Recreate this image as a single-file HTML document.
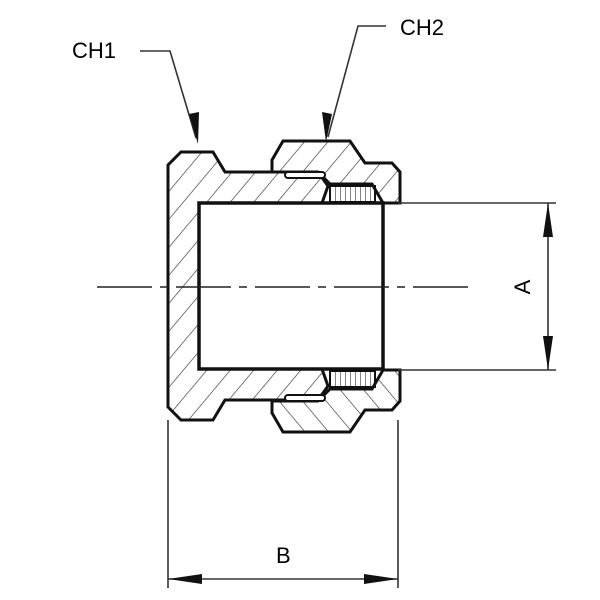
<!DOCTYPE html>
<html><head><style>body{margin:0;background:#fff}svg{display:block}</style></head><body>
<svg width="600" height="600" viewBox="0 0 600 600" xmlns="http://www.w3.org/2000/svg">
<defs>
<pattern id="h" patternUnits="userSpaceOnUse" width="18" height="18" patternTransform="rotate(40)">
<line x1="0" y1="0" x2="0" y2="18" stroke="#333" stroke-width="1.3"/>
</pattern>
<pattern id="t" patternUnits="userSpaceOnUse" width="5" height="5">
<line x1="0" y1="0" x2="0" y2="5" stroke="#333" stroke-width="1.2"/>
</pattern>
<g id="half">
<path d="M272,172 V160 L283,141 H350 L365,163 H392 L400,172 V203 H383 L372,184 H330 L318,172 Z" fill="url(#h)" stroke="#111" stroke-width="3"/>
<rect x="330" y="186" width="45" height="16" fill="url(#t)" stroke="#111" stroke-width="2"/>
<rect x="285" y="172" width="40" height="6" fill="#fff" stroke="#111" stroke-width="2" rx="3"/>
</g>
</defs>
<path d="M181,152 H213 L225,172 H318 L328,186 L322,203 H199 V369 H322 L328,386 L318,400 H225 L213,420 H181 L168,407 V165 Z" fill="url(#h)" stroke="#111" stroke-width="3"/>
<use href="#half"/>
<use href="#half" transform="translate(0,573) scale(1,-1)"/>
<rect x="199" y="203" width="184" height="166" fill="#fff" stroke="#111" stroke-width="3.5"/>
<line x1="97" y1="287" x2="470" y2="287" stroke="#222" stroke-width="1.4" stroke-dasharray="55,8,8,8"/>
<g stroke="#333" stroke-width="1.6" fill="none">
<line x1="168" y1="420" x2="168" y2="588"/>
<line x1="398" y1="420" x2="398" y2="588"/>
<line x1="168" y1="579" x2="398" y2="579"/>
<line x1="398" y1="203" x2="556" y2="203"/>
<line x1="398" y1="370" x2="556" y2="370"/>
<line x1="548" y1="203" x2="548" y2="370"/>
<polyline points="140,51 170,51 196,138"/>
<polyline points="386,26 358,26 328,137"/>
</g>
<g fill="#111">
<polygon points="168,579 202,574 202,584"/>
<polygon points="398,579 364,574 364,584"/>
<polygon points="548,203 543,237 553,237"/>
<polygon points="548,370 543,336 553,336"/>
<polygon points="198,144 189,114 199,112"/>
<polygon points="326,142 322,112 332,114"/>
</g>
<g font-family="Liberation Sans, sans-serif" font-size="22" fill="#000">
<text x="72" y="58">CH1</text>
<text x="400" y="35">CH2</text>
<text x="276" y="563">B</text>
<text transform="translate(530,287) rotate(-90)" text-anchor="middle">A</text>
</g>
</svg>
</body></html>
